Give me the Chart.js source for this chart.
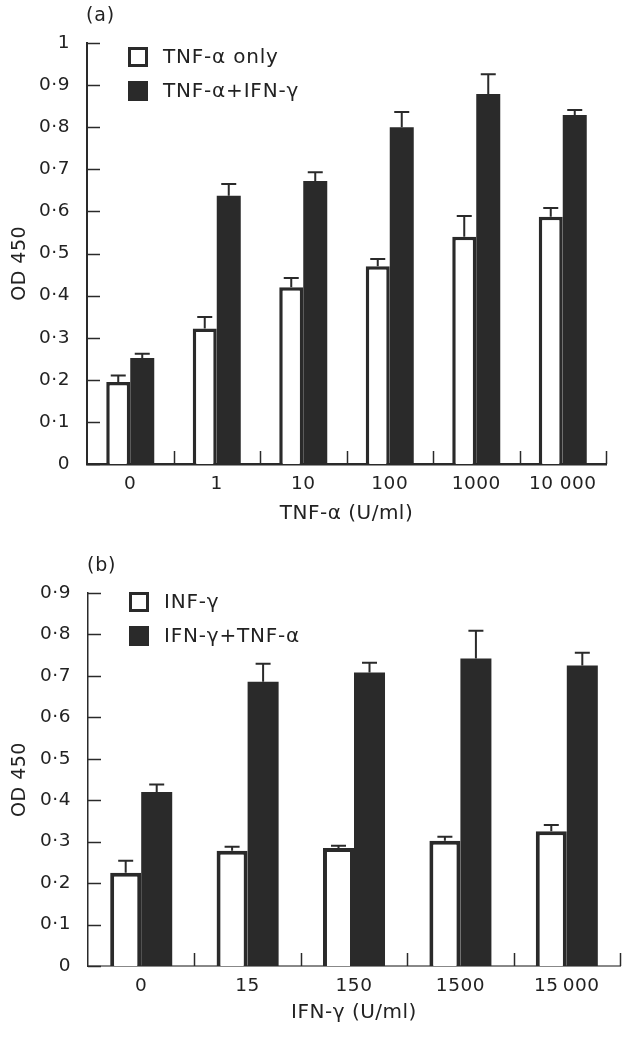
<!DOCTYPE html>
<html>
<head>
<meta charset="utf-8">
<script src="https://cdn.jsdelivr.net/npm/chart.js@4.4.1/dist/chart.umd.min.js"></script>
<style>
  html, body { margin: 0; padding: 0; background: #fff; }
  #wrap { position: relative; width: 630px; height: 1045px; }
  #panelA { position: absolute; left: 0; top: 0; }
  #panelB { position: absolute; left: 0; top: 530px; }
</style>
</head>
<body>
<div id="wrap">
  <canvas id="panelA" width="630" height="530"></canvas>
  <canvas id="panelB" width="630" height="515"></canvas>
</div>
<script>
// (a) dose of TNF-alpha
const dosesA = ["0", "1", "10", "100", "1000", "10 000"];
const tnfOnly = [0.195, 0.322, 0.42, 0.47, 0.54, 0.587];
const tnfOnlyErr = [0.015, 0.027, 0.022, 0.017, 0.049, 0.021];
const tnfIfn = [0.252, 0.637, 0.672, 0.80, 0.879, 0.829];
const tnfIfnErr = [0.01, 0.028, 0.021, 0.036, 0.047, 0.012];

// (b) dose of IFN-gamma
const dosesB = ["0", "15", "150", "1500", "15\u2009000"];
const ifnOnly = [0.225, 0.278, 0.285, 0.302, 0.325];
const ifnOnlyErr = [0.029, 0.01, 0.005, 0.01, 0.015];
const ifnTnf = [0.42, 0.686, 0.708, 0.742, 0.725];
const ifnTnfErr = [0.018, 0.043, 0.024, 0.067, 0.031];

const INK = "#2a2a2a";
Chart.defaults.font.family = "'DejaVu Sans', sans-serif";
Chart.defaults.font.size = 18.5;
Chart.defaults.color = "#222";

// 0·1 style labels
function odLabel(v) {
    const n = Math.round(v * 10);
    if (n === 0) return "0";
    if (n === 10) return "1";
    return "0\u00b7" + n;
}

// error bars, inward ticks, legend and panel letter
const decor = {
    id: "decor",
    beforeDraw(chart) {
        // the original lettering is a bit wider than DejaVu
        chart.ctx.letterSpacing = "0.5px";
    },
    afterDraw(chart, args, opts) {
        const ctx = chart.ctx;
        const xs = chart.scales.x;
        const ys = chart.scales.y;
        const area = chart.chartArea;
        ctx.save();
        ctx.strokeStyle = INK;

        // error bars (upper only)
        ctx.lineWidth = 2;
        chart.data.datasets.forEach((ds, i) => {
            const meta = chart.getDatasetMeta(i);
            meta.data.forEach((bar, j) => {
                const top = ys.getPixelForValue(ds.data[j] + ds.errors[j]);
                ctx.beginPath();
                ctx.moveTo(bar.x, bar.y);
                ctx.lineTo(bar.x, top);
                ctx.moveTo(bar.x - opts.cap, top);
                ctx.lineTo(bar.x + opts.cap, top);
                ctx.stroke();
            });
        });

        // y ticks pointing inwards
        ctx.lineWidth = 1.5;
        ys.ticks.forEach((t, i) => {
            const y = Math.round(ys.getPixelForTick(i)) + 0.5;
            ctx.beginPath();
            ctx.moveTo(area.left, y);
            ctx.lineTo(area.left + opts.tickLen, y);
            ctx.stroke();
        });
        // x ticks between the groups
        for (let k = 1; k <= chart.data.labels.length; k++) {
            const x = Math.round(xs.getPixelForValue(k - 0.5)) + 0.5;
            ctx.beginPath();
            ctx.moveTo(x, area.bottom);
            ctx.lineTo(x, area.bottom - opts.tickLen);
            ctx.stroke();
        }

        // legend
        ctx.font = "20px 'DejaVu Sans'";
        ctx.letterSpacing = "0.8px";
        ctx.textAlign = "left";
        ctx.textBaseline = "middle";
        chart.data.datasets.forEach((ds, i) => {
            const bx = area.left + opts.legendX;
            const cy = area.top + opts.legendY + i * opts.legendGap;
            ctx.fillStyle = ds.backgroundColor;
            ctx.fillRect(bx, cy - 10, 20, 20);
            if (ds.borderWidth) {
                ctx.lineWidth = 3;
                ctx.strokeStyle = INK;
                ctx.strokeRect(bx + 1.5, cy - 8.5, 17, 17);
            }
            ctx.fillStyle = "#222";
            ctx.fillText(ds.label, bx + 35, cy + 1);
        });

        // panel letter
        ctx.font = "19px 'DejaVu Sans'";
        ctx.fillText(opts.letter, area.left - 1, area.top - 27);
        ctx.restore();
    }
};

function buildPanel(id, p) {
    new Chart(document.getElementById(id), {
        type: "bar",
        data: {
            labels: p.labels,
            datasets: [
                {
                    label: p.names[0],
                    data: p.white,
                    errors: p.whiteErr,
                    backgroundColor: "#ffffff",
                    borderColor: INK,
                    borderWidth: p.barBorder,
                    categoryPercentage: p.catPct,
                    barPercentage: 1
                },
                {
                    label: p.names[1],
                    data: p.black,
                    errors: p.blackErr,
                    backgroundColor: INK,
                    borderWidth: 0,
                    categoryPercentage: p.catPct,
                    barPercentage: 1
                }
            ]
        },
        options: {
            responsive: false,
            animation: false,
            layout: { padding: { top: p.padTop, right: p.padRight, left: 0, bottom: 0 } },
            plugins: {
                legend: { display: false },
                tooltip: { enabled: false },
                decor: {
                    cap: 7.5, tickLen: 13, letter: p.letter,
                    legendX: 41, legendY: p.legendY, legendGap: 34
                }
            },
            scales: {
                x: {
                    grid: { display: false },
                    border: { display: true, color: p.xAxisColor, width: p.xAxisWidth },
                    ticks: { padding: 1, maxRotation: 0, autoSkip: false },
                    title: {
                        display: true, text: p.xTitle, font: { size: 20 },
                        padding: { top: 0, bottom: p.xTitlePad }
                    },
                    afterFit: s => { s.height = p.xHeight; }
                },
                y: {
                    min: 0,
                    max: p.yMax,
                    grid: { display: false },
                    border: { display: true, color: INK, width: p.yAxisWidth },
                    ticks: { stepSize: 0.1, padding: 9, callback: odLabel },
                    title: {
                        display: true, text: p.yTitle, font: { size: 19 },
                        padding: { top: 9, bottom: 0 }
                    },
                    afterFit: s => { s.width = p.yWidth; }
                }
            }
        },
        plugins: [decor]
    });
}

buildPanel("panelA", {
    labels: dosesA,
    names: ["TNF-\u03b1 only", "TNF-\u03b1+IFN-\u03b3"],
    white: tnfOnly, whiteErr: tnfOnlyErr,
    black: tnfIfn, blackErr: tnfIfnErr,
    xTitle: "TNF-\u03b1 (U/ml)",
    yTitle: "OD 450   ",
    letter: "(a)",
    yMax: 1,
    catPct: 0.555,
    barBorder: 3.5,
    padTop: 43, padRight: 24,
    yWidth: 87, xHeight: 66, xTitlePad: 4,
    xAxisColor: INK, xAxisWidth: 2.5, yAxisWidth: 2,
    legendY: 14
});

buildPanel("panelB", {
    labels: dosesB,
    names: ["INF-\u03b3", "IFN-\u03b3+TNF-\u03b1"],
    white: ifnOnly, whiteErr: ifnOnlyErr,
    black: ifnTnf, blackErr: ifnTnfErr,
    xTitle: "IFN-\u03b3 (U/ml)",
    yTitle: "OD 450",
    letter: "(b)",
    yMax: 0.9,
    catPct: 0.583,
    barBorder: 4,
    padTop: 63, padRight: 10,
    yWidth: 88, xHeight: 79, xTitlePad: 20,
    xAxisColor: "#888", xAxisWidth: 2, yAxisWidth: 1.5,
    legendY: 9
});
</script>
</body>
</html>
